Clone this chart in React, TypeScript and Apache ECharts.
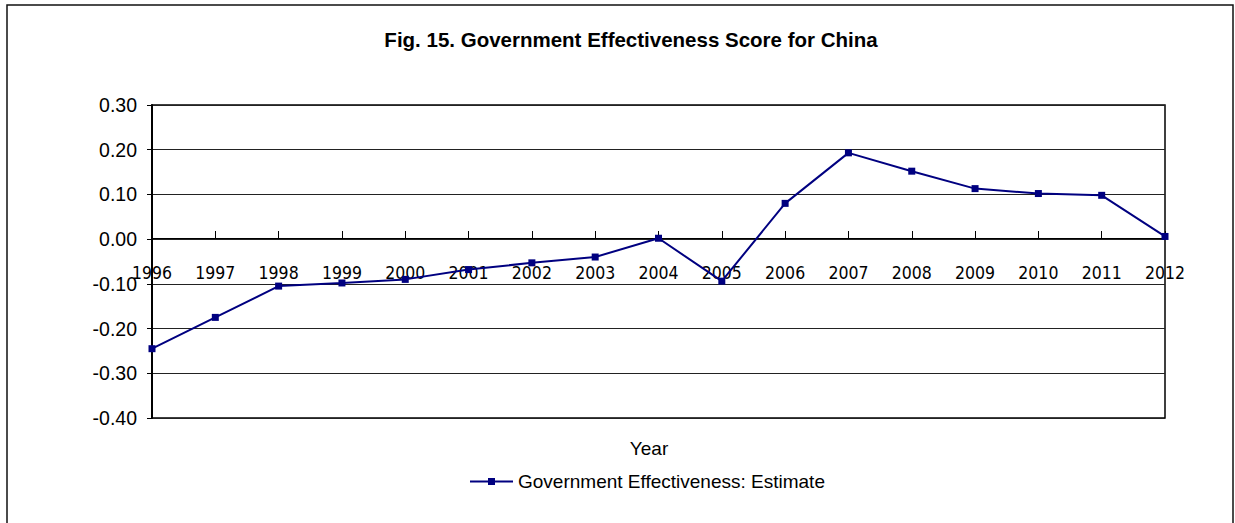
import React, { useEffect, useRef } from "react";
import * as echarts from "echarts";

const years = ["1996","1997","1998","1999","2000","2001","2002","2003","2004","2005","2006","2007","2008","2009","2010","2011","2012"];
const estimate = [-0.245, -0.175, -0.105, -0.098, -0.09, -0.068, -0.053, -0.04, 0.002, -0.094, 0.08, 0.193, 0.152, 0.113, 0.102, 0.098, 0.006];
const titleText = "Fig. 15. Government Effectiveness Score for China";
const seriesName = "Government Effectiveness: Estimate";
const xName = "Year";

export default function App() {
  const ref = useRef<HTMLDivElement>(null);
  useEffect(() => {
    if (!ref.current) return;
    const chart = echarts.init(ref.current, null, { renderer: "svg" });
    const font = "'Liberation Sans', Arial, sans-serif";
    chart.setOption({
      animation: false,
      backgroundColor: "#fff",
      title: {
        text: titleText,
        left: 626,
        top: 24,
        textAlign: "center",
        textStyle: { fontFamily: font, fontWeight: "bold", fontSize: 20.5, color: "#000" },
      },
      legend: {
        data: [{ name: seriesName, icon: "path://M0,2.6L18,2.6L18,0L25,0L25,2.6L43,2.6L43,4.4L25,4.4L25,7L18,7L18,4.4L0,4.4Z" }],
        left: 470,
        top: 472,
        padding: 0,
        itemWidth: 43,
        itemHeight: 7,
        itemGap: 4,
        textStyle: { fontFamily: font, fontSize: 19, color: "#000" },
      },
      graphic: [
        {
          type: "rect",
          shape: { x: 7, y: 5, width: 1226, height: 540 },
          style: { fill: "none", stroke: "#111", lineWidth: 1.5 },
          silent: true,
        },
        {
          type: "text",
          x: 649,
          y: 448,
          style: { text: xName, fontFamily: font, fontSize: 19, fill: "#000", textAlign: "center", textVerticalAlign: "middle" },
        },
      ],
      grid: { left: 152, right: 70, top: 105, bottom: 105, show: true, borderColor: "#000", borderWidth: 1.5 },
      xAxis: {
        type: "category",
        data: years,
        boundaryGap: false,
        position: "bottom",
        offset: -180,
        axisLine: { onZero: false, lineStyle: { color: "#000", width: 1 } },
        axisTick: { show: true, inside: true, length: 7, alignWithLabel: true, lineStyle: { color: "#000" } },
        axisLabel: {
          margin: 26,
          fontFamily: "'Liberation Sans Narrow', 'DejaVu Sans Condensed', 'Liberation Sans', sans-serif",
          fontSize: 17.5,
          color: "#000",
        },
        splitLine: { show: false },
      },
      yAxis: {
        type: "value",
        min: -0.4,
        max: 0.3,
        interval: 0.1,
        axisLine: { show: true, lineStyle: { color: "#000", width: 2 } },
        axisTick: { show: true, length: 5, lineStyle: { color: "#000" } },
        axisLabel: {
          margin: 15,
          fontFamily: font,
          fontSize: 19.5,
          color: "#000",
          formatter: (v: number) => v.toFixed(2),
        },
        splitLine: { show: true, lineStyle: { color: "#222", width: 1 } },
      },
      series: [
        {
          name: seriesName,
          type: "line",
          data: estimate,
          symbol: "rect",
          symbolSize: 7,
          lineStyle: { color: "#000080", width: 2 },
          itemStyle: { color: "#000080" },
        },
      ],
    });
    return () => chart.dispose();
  }, []);
  return <div ref={ref} style={{ position: "fixed", left: 0, top: 0, width: 1235, height: 523 }} />;
}
